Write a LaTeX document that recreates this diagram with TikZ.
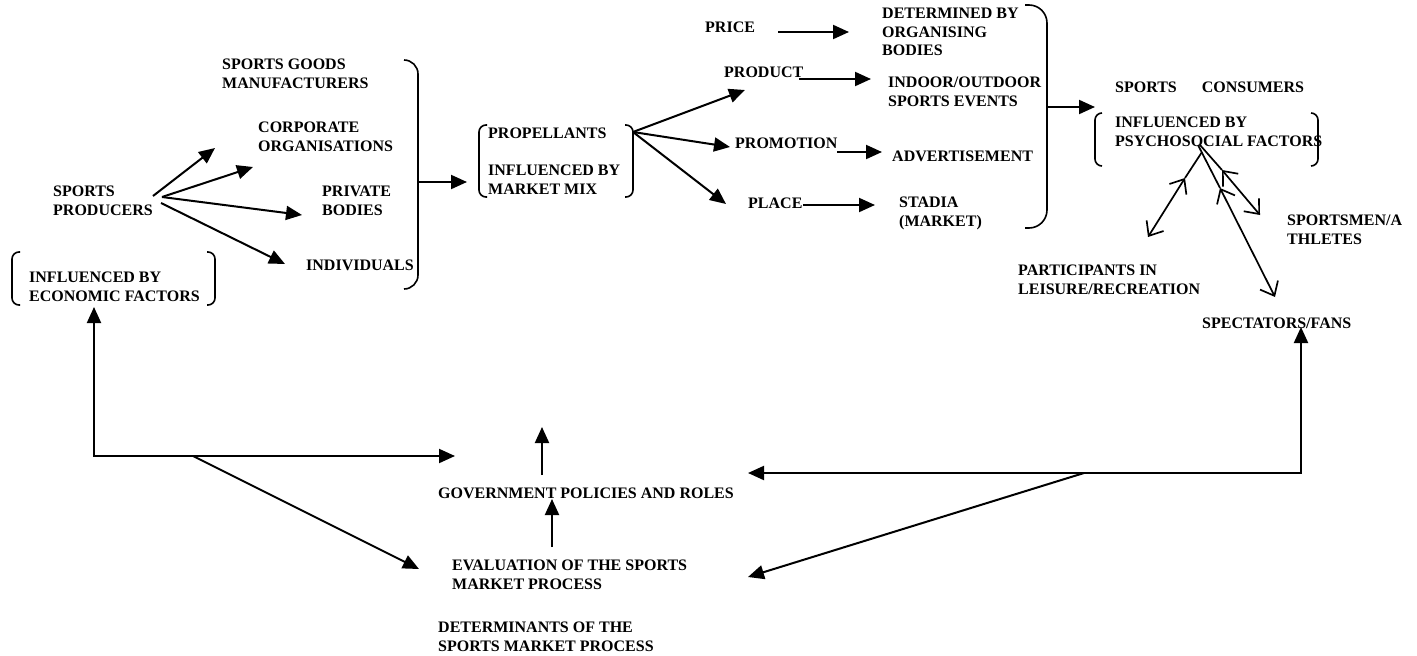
\documentclass[tikz,border=0pt]{standalone}
\usepackage{fontspec}
\setmainfont{Liberation Serif}
\usetikzlibrary{arrows.meta}

\tikzset{
  lbl/.style={anchor=north west,inner sep=0pt,align=left,
    font=\fontsize{16}{18.5}\selectfont\bfseries},
  arr/.style={line width=2pt,-{Triangle[length=16pt,width=14pt]}},
  twohead/.style={line width=2pt,{Triangle[length=16pt,width=14pt]}-{Triangle[length=16pt,width=14pt]}},
  barbs/.style={line width=1.7pt,{Straight Barb[length=12pt,width=20pt]}-{Straight Barb[length=12pt,width=20pt]}},
  brk/.style={line width=1.6pt,rounded corners=7pt},
}

\begin{document}
\begin{tikzpicture}[x=1pt,y=-1pt]
  \useasboundingbox (0,0) rectangle (1417,656);

  % producers
  \node[lbl] (goods) at (222,59) {SPORTS GOODS\\MANUFACTURERS};
  \node[lbl] (corp) at (258,122) {CORPORATE\\ORGANISATIONS};
  \node[lbl] (producers) at (53,186) {SPORTS\\PRODUCERS};
  \node[lbl] (private) at (322,186) {PRIVATE\\BODIES};
  \node[lbl] (indiv) at (306,260) {INDIVIDUALS};
  \node[lbl] (econ) at (29,272) {INFLUENCED BY\\ECONOMIC FACTORS};
  \draw[brk] (20,252) -- (12,252) -- (12,305) -- (20,305);
  \draw[brk] (207,252) -- (215,252) -- (215,305) -- (207,305);

  \coordinate (pa) at (153,196);
  \coordinate (pb) at (162,197);
  \coordinate (pc) at (161,203);
  \coordinate (toGoods) at (215,148);
  \coordinate (toCorp) at (253,167);
  \coordinate (toPrivate) at (302,215);
  \coordinate (toIndiv) at (285,264);
  \draw[arr] (pa) -- (toGoods);
  \draw[arr] (pb) -- (toCorp);
  \draw[arr] (pb) -- (toPrivate);
  \draw[arr] (pc) -- (toIndiv);

  \draw[brk,rounded corners=14pt] (404,60) -- (418,60) -- (418,289) -- (404,289);
  \coordinate (brkA) at (418,182);
  \coordinate (propIn) at (467,182);
  \draw[arr] (brkA) -- (propIn);

  % market mix
  \node[lbl] (prop) at (488,128) {PROPELLANTS\\[18.5pt]INFLUENCED BY\\MARKET MIX};
  \draw[brk] (487,125) -- (479,125) -- (479,197) -- (487,197);
  \draw[brk] (625,125) -- (633,125) -- (633,197) -- (625,197);

  \node[lbl] (price) at (705,22) {PRICE};
  \node[lbl] (product) at (724,67) {PRODUCT};
  \node[lbl] (promo) at (735,138) {PROMOTION};
  \node[lbl] (place) at (748,198) {PLACE};
  \node[lbl] (organ) at (882,8) {DETERMINED BY\\ORGANISING\\BODIES};
  \node[lbl] (events) at (888,77) {INDOOR/OUTDOOR\\SPORTS EVENTS};
  \node[lbl] (advert) at (892,151) {ADVERTISEMENT};
  \node[lbl] (stadia) at (899,197) {STADIA\\(MARKET)};

  \coordinate (mix) at (633,132);
  \coordinate (toProduct) at (745,90);
  \coordinate (toPromo) at (730,147);
  \coordinate (toPlace) at (726,204);
  \draw[arr] (mix) -- (toProduct);
  \draw[arr] (mix) -- (toPromo);
  \draw[arr] (mix) -- (toPlace);

  \coordinate (priceR) at (778,32);   \coordinate (organL) at (849,32);
  \coordinate (productR) at (799,79); \coordinate (eventsL) at (871,79);
  \coordinate (promoR) at (837,152);  \coordinate (advertL) at (882,152);
  \coordinate (placeR) at (803,205);  \coordinate (stadiaL) at (875,205);
  \draw[arr] (priceR) -- (organL);
  \draw[arr] (productR) -- (eventsL);
  \draw[arr] (promoR) -- (advertL);
  \draw[arr] (placeR) -- (stadiaL);

  \draw[brk,rounded corners=18pt] (1025,5) -- (1047,5) -- (1047,228) -- (1025,228);
  \coordinate (brkB) at (1047,107);
  \coordinate (consIn) at (1095,107);
  \draw[arr] (brkB) -- (consIn);

  % consumers
  \node[lbl] (consumers) at (1115,82) {SPORTS\hspace{25pt}CONSUMERS};
  \node[lbl] (psycho) at (1115,117) {INFLUENCED BY\\PSYCHOSOCIAL FACTORS};
  \draw[brk] (1102,113) -- (1095,113) -- (1095,166) -- (1102,166);
  \draw[brk] (1311,113) -- (1318,113) -- (1318,166) -- (1311,166);

  \node[lbl] (athletes) at (1287,215) {SPORTSMEN/A\\THLETES};
  \node[lbl] (leisure) at (1018,265) {PARTICIPANTS IN\\LEISURE/RECREATION};
  \node[lbl] (fans) at (1202,318) {SPECTATORS/FANS};

  \coordinate (psyA) at (1202,152);
  \coordinate (psyB) at (1200,145);
  \coordinate (psyC) at (1198,145);
  \coordinate (midA) at (1185,178); \coordinate (toLeisure) at (1148,237);
  \coordinate (midB) at (1222,170); \coordinate (toAthletes) at (1260,215);
  \coordinate (midC) at (1220,188); \coordinate (toFans) at (1275,297);
  \draw[line width=1.7pt] (psyA) -- (midA);
  \draw[line width=1.7pt] (psyB) -- (midB);
  \draw[line width=1.7pt] (psyC) -- (midC);
  \draw[barbs] (midA) -- (toLeisure);
  \draw[barbs] (midB) -- (toAthletes);
  \draw[barbs] (midC) -- (toFans);

  % determinants
  \node[lbl] (gov) at (438,488) {GOVERNMENT POLICIES AND ROLES};
  \node[lbl] (eval) at (452,560) {EVALUATION OF THE SPORTS\\MARKET PROCESS};
  \node[lbl] (determ) at (438,622) {DETERMINANTS OF THE\\SPORTS MARKET PROCESS};

  \coordinate (econUp) at (94,307);
  \coordinate (govL) at (455,456);
  \coordinate (splitL) at (193,456);
  \coordinate (evalL) at (419,569);
  \draw[twohead] (econUp) |- (govL);
  \draw[arr] (splitL) -- (evalL);

  \coordinate (fansUp) at (1301,327);
  \coordinate (govR) at (748,473);
  \coordinate (splitR) at (1084,473);
  \coordinate (evalR) at (748,577);
  \draw[twohead] (fansUp) |- (govR);
  \draw[arr] (splitR) -- (evalR);

  \coordinate (govFoot) at (542,475); \coordinate (govTip) at (542,427);
  \coordinate (evalTop) at (552,547); \coordinate (govIn) at (552,499);
  \draw[arr] (govFoot) -- (govTip);
  \draw[arr] (evalTop) -- (govIn);
\end{tikzpicture}
\end{document}
